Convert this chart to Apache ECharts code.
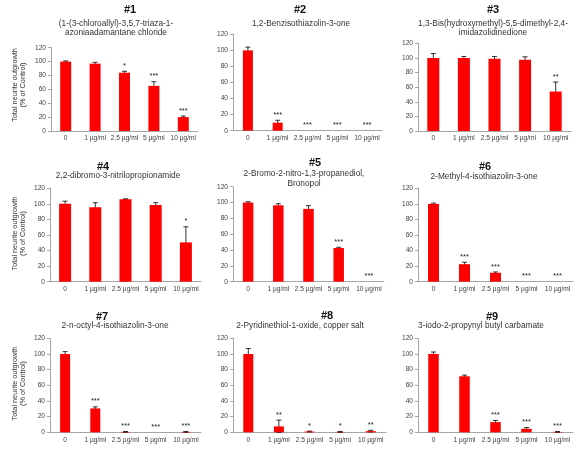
<!DOCTYPE html>
<html><head><meta charset="utf-8">
<script src="https://cdn.jsdelivr.net/npm/echarts@6/dist/echarts.min.js"></script>
<style>html,body{margin:0;padding:0;background:#fff}#c{width:580px;height:453px}</style>
</head><body><div id="c"></div>
<script>
const categories = ['0', '1 µg/ml', '2.5 µg/ml', '5 µg/ml', '10 µg/ml'];
const panelNumbers = ['#1', '#2', '#3', '#4', '#5', '#6', '#7', '#8', '#9'];
const compoundNames = [
  '(1-(3-chloroallyl)-3,5,7-triaza-1-\nazoniaadamantane chloride',
  '1,2-Benzisothiazolin-3-one',
  '1,3-Bis(hydroxymethyl)-5,5-dimethyl-2,4-\nimidazolidinedione',
  '2,2-dibromo-3-nitrilopropionamide',
  '2-Bromo-2-nitro-1,3-propanediol,\nBronopol',
  '2-Methyl-4-isothiazolin-3-one',
  '2-n-octyl-4-isothiazolin-3-one',
  '2-Pyridinethiol-1-oxide, copper salt',
  '3-iodo-2-propynyl butyl carbamate'
];
const yAxisName = 'Total neurite outgrowth\n(% of Control)';
const yMin = 0, yMax = 120, yStep = 20;

const values1 = [100, 97, 84, 65, 20];
const errors1 = [1, 2, 2, 6, 1.5];
const signif1 = ['', '', '*', '***', '***'];
const values2 = [100, 10, 0, 0, 0];
const errors2 = [4, 3, 0, 0, 0];
const signif2 = ['', '***', '***', '***', '***'];
const values3 = [100, 100, 99, 97.5, 54];
const errors3 = [6, 2, 3, 4, 13];
const signif3 = ['', '', '', '', '**'];
const values4 = [100, 95.5, 106, 98.5, 50.5];
const errors4 = [3.5, 6, 0.5, 3, 20];
const signif4 = ['', '', '', '', '*'];
const values5 = [100, 96.5, 92, 42.5, 0];
const errors5 = [1, 2, 4, 1, 0];
const signif5 = ['', '', '', '***', '***'];
const values6 = [100, 22.5, 11.5, 0, 0];
const errors6 = [1, 2.5, 1, 0, 0];
const signif6 = ['', '***', '***', '***', '***'];
const values7 = [100, 30.5, 0.5, 0, 0.5];
const errors7 = [3, 2, 0.5, 0, 0.5];
const signif7 = ['', '***', '***', '***', '***'];
const values8 = [100, 7.5, 1, 0.5, 1.5];
const errors8 = [7, 8, 0.5, 0.5, 1];
const signif8 = ['', '**', '*', '*', '**'];
const values9 = [100, 71.5, 13, 4.5, 0.5];
const errors9 = [2.5, 1.5, 2, 1.5, 0.5];
const signif9 = ['', '', '***', '***', '***'];

const allValues = [values1, values2, values3, values4, values5, values6, values7, values8, values9];
const allErrors = [errors1, errors2, errors3, errors4, errors5, errors6, errors7, errors8, errors9];
const allSignif = [signif1, signif2, signif3, signif4, signif5, signif6, signif7, signif8, signif9];

// layout (pixels)
const gridBoxes = [
  [51, 47.7, 147, 83.3], [233, 34.3, 149, 96.4], [418, 43.3, 153, 87.7],
  [50, 188.3, 151, 93.4], [233, 186.7, 151, 95], [418, 188.3, 155, 93.4],
  [50, 338.3, 151, 94], [233, 338.3, 153, 94], [418, 338.3, 155, 94]
];
const barWidths = [11, 10, 12, 12, 10.5, 11, 10, 10, 10.5];
const numberPos = [[130, 9.5], [300, 10], [493, 10], [103, 166.7], [315, 162.7], [485, 166.7], [102, 316.7], [327, 315.7], [492, 316.7]];
const namePos = [[116, 28.5], [301, 24], [493, 28.3], [118, 175.7], [304, 178.8], [484, 176.7], [115, 325.7], [300, 325.7], [481, 325.7]];
const axisNamePos = [[18.5, 85], [18.5, 233.5], [18.5, 383.5]];

const FONT = '"Liberation Sans", Arial, sans-serif';
const grids = [], xAxes = [], yAxes = [], series = [], graphics = [];

allValues.forEach((vals, i) => {
  const g = gridBoxes[i];
  grids.push({ left: g[0], top: g[1], width: g[2], height: g[3], containLabel: false });
  xAxes.push({
    type: 'category', gridIndex: i, data: categories,
    axisLine: { lineStyle: { color: '#a6a6a6', width: 1 } },
    axisTick: { show: false },
    axisLabel: { fontSize: 6.6, color: '#404040', margin: 4, interval: 0, fontFamily: FONT }
  });
  yAxes.push({
    type: 'value', gridIndex: i, min: yMin, max: yMax, interval: yStep,
    axisLine: { show: true, lineStyle: { color: '#a6a6a6', width: 1 } },
    axisTick: { show: true, length: 3, lineStyle: { color: '#a6a6a6' } },
    splitLine: { show: false },
    axisLabel: { fontSize: 6.6, color: '#404040', margin: 5, fontFamily: FONT }
  });
  series.push({
    type: 'bar', xAxisIndex: i, yAxisIndex: i, data: vals,
    barWidth: barWidths[i], itemStyle: { color: '#ff0000' }, silent: true, animation: false
  });
  const errs = allErrors[i], sig = allSignif[i];
  series.push({
    type: 'custom', xAxisIndex: i, yAxisIndex: i, animation: false, silent: true,
    data: vals.map((v, k) => [k, v, errs[k]]),
    renderItem: function (params, api) {
      const k = api.value(0), v = api.value(1), e = api.value(2);
      const children = [];
      const top = api.coord([k, v + e]);
      const bot = api.coord([k, Math.max(0, v - e)]);
      const cap = 2.5;
      if (e > 0) {
        const ls = { stroke: '#000', lineWidth: 0.8 };
        children.push({ type: 'line', shape: { x1: top[0], y1: top[1], x2: bot[0], y2: bot[1] }, style: ls });
        children.push({ type: 'line', shape: { x1: top[0] - cap, y1: top[1], x2: top[0] + cap, y2: top[1] }, style: ls });
        children.push({ type: 'line', shape: { x1: bot[0] - cap, y1: bot[1], x2: bot[0] + cap, y2: bot[1] }, style: ls });
      }
      const s = sig[params.dataIndex];
      if (s) {
        children.push({ type: 'text', x: top[0], y: top[1] - 1.5,
          style: { text: s, align: 'center', verticalAlign: 'bottom', font: '7.5px ' + FONT, fill: '#222' } });
      }
      return { type: 'group', children: children };
    }
  });
  graphics.push({ type: 'text', x: numberPos[i][0], y: numberPos[i][1],
    style: { text: panelNumbers[i], align: 'center', verticalAlign: 'middle', font: 'bold 11px ' + FONT, fill: '#111' } });
  graphics.push({ type: 'text', x: namePos[i][0], y: namePos[i][1],
    style: { text: compoundNames[i], align: 'center', verticalAlign: 'middle', font: '8.3px ' + FONT, fill: '#333', lineHeight: 9.2 } });
});

axisNamePos.forEach(p => {
  graphics.push({ type: 'text', x: p[0], y: p[1], rotation: Math.PI / 2,
    style: { text: yAxisName, align: 'center', verticalAlign: 'middle', font: '7.3px ' + FONT, fill: '#333', lineHeight: 8 } });
});

const chart = echarts.init(document.getElementById('c'), null, { renderer: 'canvas' });
chart.setOption({
  backgroundColor: '#fff', animation: false,
  grid: grids, xAxis: xAxes, yAxis: yAxes, series: series, graphic: graphics
});
</script></body></html>
